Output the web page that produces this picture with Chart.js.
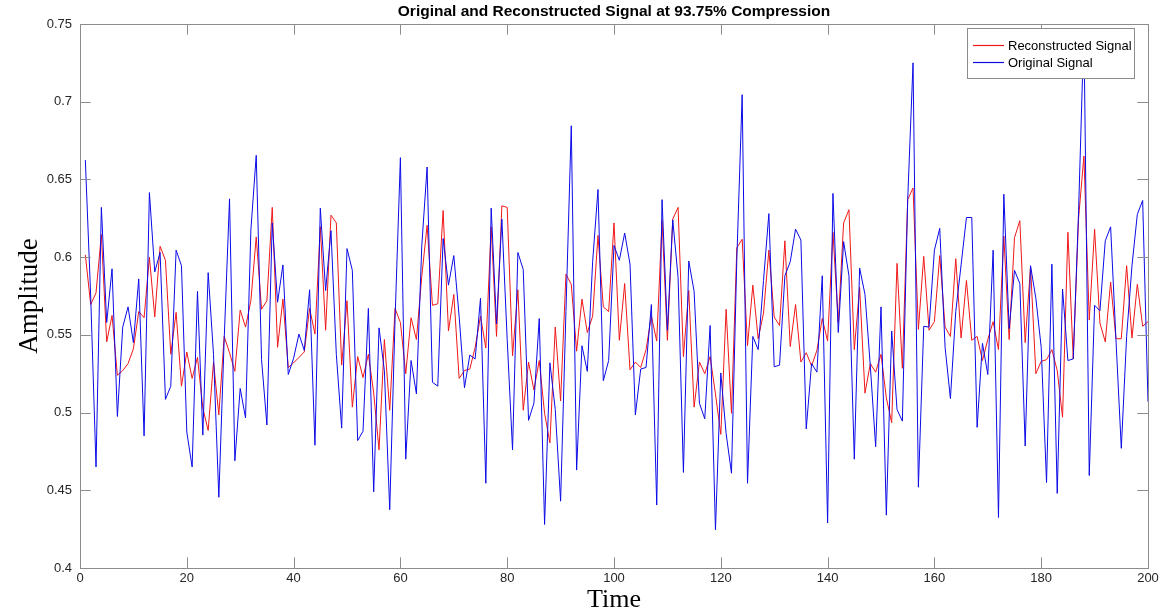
<!DOCTYPE html>
<html>
<head>
<meta charset="utf-8">
<script src="https://cdn.jsdelivr.net/npm/chart.js@4.4.1/dist/chart.umd.min.js"></script>
<style>
  html, body { margin: 0; padding: 0; background: #fff; }
  #wrap { width: 1171px; height: 616px; }
</style>
</head>
<body>
<div id="wrap"><canvas id="sig" width="1171" height="616"></canvas></div>
<script>
// values, sample 1..200
const reconstructed = [
  0.6015, 0.5695, 0.577, 0.6145, 0.5455, 0.5625, 0.524, 0.527, 0.5315, 0.541,
  0.565, 0.561, 0.6, 0.5615, 0.607, 0.598, 0.5375, 0.5645, 0.517, 0.539,
  0.522, 0.5355, 0.503, 0.4885, 0.5325, 0.4985, 0.549, 0.5385, 0.5265, 0.566,
  0.555, 0.572, 0.613, 0.5665, 0.572, 0.632, 0.542, 0.573, 0.529, 0.532,
  0.5355, 0.539, 0.567, 0.5505, 0.6195, 0.553, 0.627, 0.622, 0.5305, 0.572,
  0.5035, 0.536, 0.5225, 0.5375, 0.5125, 0.476, 0.547, 0.5015, 0.567, 0.558,
  0.525, 0.561, 0.547, 0.5875, 0.6205, 0.569, 0.57, 0.63, 0.5525, 0.576,
  0.522, 0.527, 0.528, 0.542, 0.562, 0.5415, 0.6195, 0.549, 0.633, 0.632,
  0.5365, 0.579, 0.5015, 0.5325, 0.5145, 0.5335, 0.4995, 0.4805, 0.555, 0.5075,
  0.589, 0.5825, 0.5395, 0.573, 0.5515, 0.562, 0.614, 0.568, 0.565, 0.622,
  0.5465, 0.583, 0.5275, 0.5325, 0.529, 0.5405, 0.562, 0.546, 0.6235, 0.5465,
  0.6245, 0.632, 0.536, 0.5785, 0.5035, 0.5325, 0.525, 0.536, 0.512, 0.486,
  0.5665, 0.4995, 0.606, 0.6115, 0.543, 0.582, 0.5475, 0.564, 0.6045, 0.5615,
  0.556, 0.6105, 0.5425, 0.5695, 0.5325, 0.5385, 0.53, 0.54, 0.5605, 0.546,
  0.616, 0.558, 0.622, 0.6305, 0.5405, 0.5805, 0.5125, 0.5315, 0.526, 0.5375,
  0.5095, 0.4935, 0.596, 0.5285, 0.637, 0.6445, 0.5535, 0.6005, 0.553, 0.5585,
  0.601, 0.555, 0.549, 0.599, 0.548, 0.585, 0.5465, 0.549, 0.5335, 0.547,
  0.5585, 0.5405, 0.6135, 0.547, 0.6125, 0.6235, 0.545, 0.594, 0.525, 0.533,
  0.534, 0.5405, 0.527, 0.497, 0.616, 0.5345, 0.625, 0.665, 0.5595, 0.618,
  0.5575, 0.5455, 0.584, 0.5475, 0.5475, 0.5945, 0.548, 0.5825, 0.5555, 0.5585
];

const original = [
  0.6625, 0.575, 0.465, 0.632, 0.558, 0.5925, 0.4975, 0.555, 0.568, 0.545,
  0.586, 0.485, 0.6415, 0.5905, 0.603, 0.5085, 0.517, 0.6045, 0.5945, 0.4875,
  0.465, 0.578, 0.4855, 0.59, 0.5375, 0.4455, 0.547, 0.6375, 0.469, 0.5155,
  0.4965, 0.6175, 0.6655, 0.534, 0.492, 0.622, 0.571, 0.595, 0.5245, 0.535,
  0.5505, 0.54, 0.579, 0.479, 0.6315, 0.5785, 0.617, 0.5375, 0.49, 0.6055,
  0.5915, 0.482, 0.488, 0.567, 0.449, 0.5545, 0.527, 0.4375, 0.56, 0.664,
  0.47, 0.5335, 0.512, 0.607, 0.658, 0.5195, 0.517, 0.612, 0.582, 0.601,
  0.562, 0.516, 0.537, 0.5345, 0.5735, 0.4545, 0.6315, 0.557, 0.6245, 0.547,
  0.476, 0.603, 0.592, 0.495, 0.506, 0.5605, 0.428, 0.532, 0.502, 0.443,
  0.565, 0.6845, 0.463, 0.543, 0.5265, 0.597, 0.6435, 0.5205, 0.5335, 0.6075,
  0.598, 0.6155, 0.5955, 0.4985, 0.528, 0.529, 0.5695, 0.4405, 0.637, 0.553,
  0.624, 0.587, 0.4615, 0.5975, 0.578, 0.506, 0.496, 0.556, 0.4245, 0.5255,
  0.4865, 0.461, 0.5985, 0.7045, 0.4545, 0.549, 0.5405, 0.585, 0.628, 0.5295,
  0.5305, 0.588, 0.597, 0.618, 0.611, 0.4895, 0.5315, 0.526, 0.588, 0.429,
  0.641, 0.5515, 0.61, 0.588, 0.47, 0.593, 0.576, 0.53, 0.478, 0.568,
  0.434, 0.5525, 0.502, 0.4945, 0.637, 0.725, 0.452, 0.5555, 0.555, 0.6045,
  0.6185, 0.542, 0.509, 0.565, 0.595, 0.6255, 0.6255, 0.4905, 0.5445, 0.5245,
  0.6045, 0.4325, 0.6405, 0.554, 0.5915, 0.583, 0.4785, 0.5945, 0.5735, 0.542,
  0.455, 0.5955, 0.448, 0.5795, 0.5335, 0.5345, 0.63, 0.747, 0.4595, 0.569,
  0.5655, 0.6105, 0.6195, 0.547, 0.477, 0.549, 0.5945, 0.6275, 0.6365, 0.507
];

const xTicks = [0, 20, 40, 60, 80, 100, 120, 140, 160, 180, 200];
const yTicks = [0.4, 0.45, 0.5, 0.55, 0.6, 0.65, 0.7, 0.75];

const titleText = 'Original and Reconstructed Signal at 93.75% Compression';
const sans = '"Liberation Sans", Arial, Helvetica, sans-serif';
const serif = '"Liberation Serif", "Times New Roman", serif';
const boxColor = '#8c8c8c';
const redColor = '#f01818';
const blueColor = '#0a0ae8';

const toPoints = arr => arr.map((v, i) => ({ x: i + 1, y: v }));

// axes box, inward ticks, title and legend, MATLAB style
const matlabAxes = {
  id: 'matlabAxes',
  afterDraw(chart) {
    const { ctx, chartArea: a, scales } = chart;
    const tl = 10.7;
    ctx.save();
    ctx.strokeStyle = boxColor;
    ctx.lineWidth = 1;
    ctx.beginPath();
    xTicks.forEach(v => {
      const px = Math.round(scales.x.getPixelForValue(v)) + 0.5;
      ctx.moveTo(px, a.bottom); ctx.lineTo(px, a.bottom - tl);
      ctx.moveTo(px, a.top); ctx.lineTo(px, a.top + tl);
    });
    yTicks.forEach(v => {
      const py = Math.round(scales.y.getPixelForValue(v)) + 0.5;
      ctx.moveTo(a.left, py); ctx.lineTo(a.left + tl, py);
      ctx.moveTo(a.right, py); ctx.lineTo(a.right - tl, py);
    });
    ctx.stroke();
    ctx.strokeRect(Math.round(a.left) + 0.5, Math.round(a.top) + 0.5,
      Math.round(a.right - a.left), Math.round(a.bottom - a.top));

    // title centred over the axes
    ctx.fillStyle = '#000';
    ctx.font = 'bold 15.5px ' + sans;
    ctx.textAlign = 'center';
    ctx.textBaseline = 'middle';
    ctx.fillText(titleText, (a.left + a.right) / 2, 12);

    // legend box top right
    const lx = 967, ly = 28, lw = 167, lh = 50;
    const sample = [redColor, blueColor];
    ctx.fillStyle = '#fff';
    ctx.fillRect(lx, ly, lw, lh);
    ctx.strokeStyle = boxColor;
    ctx.strokeRect(lx + 0.5, ly + 0.5, lw, lh);
    ctx.font = '13px ' + sans;
    ctx.textAlign = 'left';
    chart.data.datasets.forEach((ds, i) => {
      const cy = ly + 17 + i * 17;
      ctx.strokeStyle = sample[i];
      ctx.lineWidth = 1.2;
      ctx.beginPath();
      ctx.moveTo(lx + 6, cy + 0.5); ctx.lineTo(lx + 37, cy + 0.5);
      ctx.stroke();
      ctx.fillStyle = '#000';
      ctx.fillText(ds.label, lx + 41, cy + 1);
    });
    ctx.restore();
  }
};

new Chart(document.getElementById('sig'), {
  type: 'line',
  data: {
    datasets: [
      { label: 'Reconstructed Signal', data: toPoints(reconstructed), borderColor: redColor, order: 1 },
      { label: 'Original Signal', data: toPoints(original), borderColor: blueColor, order: 0 }
    ]
  },
  options: {
    responsive: false,
    animation: false,
    layout: { padding: { left: 0, right: 23, top: 24, bottom: 0 } },
    elements: {
      point: { radius: 0 },
      line: { borderWidth: 1, tension: 0 }
    },
    plugins: {
      legend: { display: false },
      title: { display: false },
      tooltip: { enabled: false }
    },
    scales: {
      x: {
        type: 'linear', min: 0, max: 200,
        afterBuildTicks: s => { s.ticks = xTicks.map(v => ({ value: v })); },
        afterFit: s => { s.height = 48; },
        ticks: { font: { family: sans, size: 13 }, color: '#262626', padding: 3, maxRotation: 0 },
        grid: { display: false, drawTicks: false },
        border: { display: false },
        title: { display: true, text: 'Time', color: '#000', font: { family: serif, size: 26 }, padding: { top: 0, bottom: 0 } }
      },
      y: {
        min: 0.4, max: 0.75,
        afterBuildTicks: s => { s.ticks = yTicks.map(v => ({ value: v })); },
        afterFit: s => { s.width = 80; },
        ticks: { font: { family: sans, size: 13 }, color: '#262626', padding: 8, callback: v => String(+v.toFixed(2)) },
        grid: { display: false, drawTicks: false },
        border: { display: false },
        title: { display: true, text: 'Amplitude', color: '#000', font: { family: serif, size: 27 }, padding: { top: 14, bottom: 0 } }
      }
    }
  },
  plugins: [matlabAxes]
});
</script>
</body>
</html>
